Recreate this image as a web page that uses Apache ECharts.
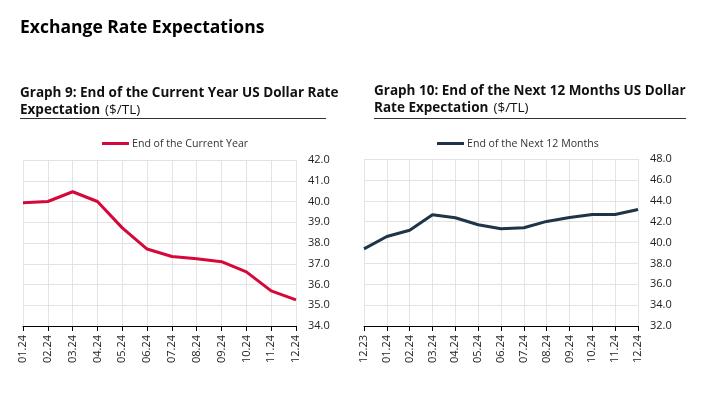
<!DOCTYPE html>
<html>
<head>
<meta charset="utf-8">
<script src="https://cdn.jsdelivr.net/npm/echarts@6/dist/echarts.min.js"></script>
<style>
  html, body { margin: 0; padding: 0; background: #fff; }
  #chart { width: 723px; height: 400px; }
</style>
</head>
<body>
<div id="chart"></div>
<script>
// graph 9: end of the current year expectation
var currentYearMonths = ['01.24', '02.24', '03.24', '04.24', '05.24', '06.24', '07.24', '08.24', '09.24', '10.24', '11.24', '12.24'];
var currentYearValues = [39.94, 40.0, 40.47, 40.0, 38.73, 37.71, 37.35, 37.24, 37.1, 36.61, 35.69, 35.26];

// graph 10: end of the next 12 months expectation
var next12Months = ['12.23', '01.24', '02.24', '03.24', '04.24', '05.24', '06.24', '07.24', '08.24', '09.24', '10.24', '11.24', '12.24'];
var next12Values = [39.39, 40.58, 41.18, 42.66, 42.37, 41.70, 41.31, 41.41, 42.02, 42.40, 42.69, 42.69, 43.17];

var FONT = '"Open Sans", sans-serif';
var myChart = echarts.init(document.getElementById('chart'));

function xAxisFor(idx, cats) {
    return {
        type: 'category',
        gridIndex: idx,
        data: cats,
        boundaryGap: false,
        axisLine: { lineStyle: { color: '#000', width: 1 } },
        axisTick: { show: true, length: 5, lineStyle: { color: '#000' } },
        axisLabel: { rotate: 90, color: '#222', fontSize: 11, fontFamily: FONT, margin: 9, interval: 0 },
        splitLine: { show: true, lineStyle: { color: '#e3e3e3' } }
    };
}

function yAxisFor(idx, min, max, step) {
    return {
        type: 'value',
        gridIndex: idx,
        position: 'right',
        min: min,
        max: max,
        interval: step,
        axisLine: { show: false },
        axisTick: { show: false },
        axisLabel: {
            color: '#222', fontSize: 11, fontFamily: FONT, margin: 12,
            formatter: function (v) { return v.toFixed(1); }
        },
        splitLine: { lineStyle: { color: '#e3e3e3' } }
    };
}

var titleRich = {
    b: { fontWeight: 'bold', fontSize: 13.5, color: '#111', fontFamily: FONT, lineHeight: 16 },
    n: { fontWeight: 'normal', fontSize: 13.5, color: '#111', fontFamily: FONT, lineHeight: 16 }
};

function legendFor(name, left, top) {
    return {
        data: [name],
        left: left, top: top,
        itemWidth: 27, itemHeight: 3, itemGap: 4,
        icon: 'rect',
        textStyle: { fontSize: 10.6, color: '#333', fontFamily: FONT, padding: [0, 0, 0, -2] }
    };
}

var option = {
    animation: false,
    title: [{
        text: 'Exchange Rate Expectations',
        left: 15, top: 14,
        textStyle: { fontSize: 17.5, fontWeight: 'bold', color: '#000', fontFamily: FONT }
    }, {
        text: '{b|Graph 9: End of the Current Year US Dollar Rate}\n{b|Expectation} {n|($/TL)}',
        left: 15, top: 80,
        textStyle: { rich: titleRich }
    }, {
        text: '{b|Graph 10: End of the Next 12 Months US Dollar}\n{b|Rate Expectation} {n|($/TL)}',
        left: 369, top: 78,
        textStyle: { rich: titleRich }
    }],
    legend: [
        legendFor('End of the Current Year', 97, 133),
        legendFor('End of the Next 12 Months', 432, 133)
    ],
    graphic: [{
        type: 'line',
        shape: { x1: 20, y1: 118.5, x2: 326, y2: 118.5 },
        style: { stroke: '#333', lineWidth: 1 }
    }, {
        type: 'line',
        shape: { x1: 374, y1: 118.5, x2: 686, y2: 118.5 },
        style: { stroke: '#333', lineWidth: 1 }
    }],
    grid: [
        { left: 23, top: 160, width: 273, height: 166 },
        { left: 364, top: 159, width: 274, height: 167 }
    ],
    xAxis: [xAxisFor(0, currentYearMonths), xAxisFor(1, next12Months)],
    yAxis: [yAxisFor(0, 34, 42, 1), yAxisFor(1, 32, 48, 2)],
    series: [{
        name: 'End of the Current Year',
        type: 'line',
        xAxisIndex: 0, yAxisIndex: 0,
        data: currentYearValues,
        symbol: 'none',
        color: '#d4083b',
        lineStyle: { width: 3, color: '#d4083b' }
    }, {
        name: 'End of the Next 12 Months',
        type: 'line',
        xAxisIndex: 1, yAxisIndex: 1,
        data: next12Values,
        symbol: 'none',
        color: '#1f3448',
        lineStyle: { width: 3, color: '#1f3448' }
    }]
};

myChart.setOption(option);
</script>
</body>
</html>
